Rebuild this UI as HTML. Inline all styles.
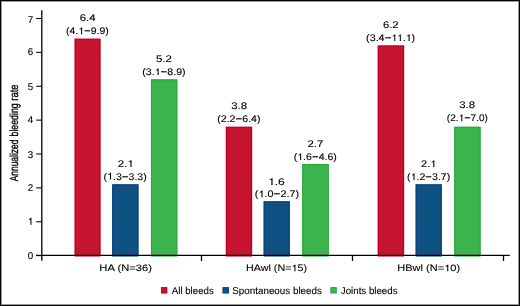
<!DOCTYPE html>
<html><head><meta charset="utf-8"><style>
html,body{margin:0;padding:0;background:#fff;}
svg{display:block;will-change:transform;}
.h{fill-opacity:0;stroke-opacity:0;}
text{font-family:"Liberation Sans",sans-serif;text-rendering:geometricPrecision;fill:#000;stroke:#000;stroke-width:0.12px;}
</style></head><body>
<svg width="520" height="306" viewBox="0 0 520 306">
<rect width="520" height="306" fill="#fff"/>
<rect x="0.5" y="0.5" width="519" height="305" fill="none" stroke="#000" stroke-width="1"/>
<rect x="1.5" y="1.5" width="517" height="303" fill="none" stroke="#999" stroke-width="1"/>
<rect x="74.60" y="38.68" width="25.90" height="216.77" fill="#c61330"/>
<rect x="75.20" y="39.28" width="24.70" height="216.77" fill="none" stroke="#b8001c" stroke-width="1"/>
<rect x="112.15" y="184.32" width="26.35" height="71.13" fill="#105184"/>
<rect x="112.75" y="184.92" width="25.15" height="71.13" fill="none" stroke="#083f72" stroke-width="1"/>
<rect x="150.90" y="79.33" width="26.50" height="176.12" fill="#3cb44e"/>
<rect x="151.50" y="79.93" width="25.30" height="176.12" fill="none" stroke="#2aa83c" stroke-width="1"/>
<rect x="225.80" y="126.74" width="26.35" height="128.71" fill="#c61330"/>
<rect x="226.40" y="127.34" width="25.15" height="128.71" fill="none" stroke="#b8001c" stroke-width="1"/>
<rect x="263.60" y="201.26" width="26.25" height="54.19" fill="#105184"/>
<rect x="264.20" y="201.86" width="25.05" height="54.19" fill="none" stroke="#083f72" stroke-width="1"/>
<rect x="302.15" y="164.00" width="26.65" height="91.45" fill="#3cb44e"/>
<rect x="302.75" y="164.60" width="25.45" height="91.45" fill="none" stroke="#2aa83c" stroke-width="1"/>
<rect x="377.70" y="45.46" width="26.45" height="209.99" fill="#c61330"/>
<rect x="378.30" y="46.06" width="25.25" height="209.99" fill="none" stroke="#b8001c" stroke-width="1"/>
<rect x="415.60" y="184.32" width="26.25" height="71.13" fill="#105184"/>
<rect x="416.20" y="184.92" width="25.05" height="71.13" fill="none" stroke="#083f72" stroke-width="1"/>
<rect x="454.15" y="126.74" width="26.50" height="128.71" fill="#3cb44e"/>
<rect x="454.75" y="127.34" width="25.30" height="128.71" fill="none" stroke="#2aa83c" stroke-width="1"/>
<text id="v00" x="79.76" y="21.00" style="font-size:9.6px;" textLength="15.93" lengthAdjust="spacingAndGlyphs">6.4</text>
<text id="r00" x="66.01" y="34.20" style="font-size:9.6px;" textLength="42.82" lengthAdjust="spacingAndGlyphs">(4.<tspan class="h">1</tspan><tspan dx="0.3" style="stroke-width:0.4px">−</tspan><tspan dx="0.3">9.9)</tspan></text>
<text id="v01" x="117.73" y="166.95" style="font-size:9.6px;" textLength="15.88" lengthAdjust="spacingAndGlyphs">2.<tspan class="h">1</tspan></text>
<text id="r01" x="103.59" y="179.50" style="font-size:9.6px;" textLength="43.14" lengthAdjust="spacingAndGlyphs">(<tspan class="h">1</tspan>.3<tspan dx="0.3" style="stroke-width:0.4px">−</tspan><tspan dx="0.3">3.3)</tspan></text>
<text id="v02" x="156.12" y="62.10" style="font-size:9.6px;" textLength="15.85" lengthAdjust="spacingAndGlyphs">5.2</text>
<text id="r02" x="142.25" y="75.10" style="font-size:9.6px;" textLength="43.42" lengthAdjust="spacingAndGlyphs">(3.<tspan class="h">1</tspan><tspan dx="0.3" style="stroke-width:0.4px">−</tspan><tspan dx="0.3">8.9)</tspan></text>
<text id="v10" x="231.16" y="109.20" style="font-size:9.6px;" textLength="15.89" lengthAdjust="spacingAndGlyphs">3.8</text>
<text id="r10" x="217.28" y="122.30" style="font-size:9.6px;" textLength="43.20" lengthAdjust="spacingAndGlyphs">(2.2<tspan dx="0.3" style="stroke-width:0.4px">−</tspan><tspan dx="0.3">6.4)</tspan></text>
<text id="v11" x="268.05" y="184.95" style="font-size:9.6px;" textLength="16.74" lengthAdjust="spacingAndGlyphs"><tspan class="h">1</tspan>.6</text>
<text id="r11" x="254.88" y="197.30" style="font-size:9.6px;" textLength="44.16" lengthAdjust="spacingAndGlyphs">(<tspan class="h">1</tspan>.0<tspan dx="0.3" style="stroke-width:0.4px">−</tspan><tspan dx="0.3">2.7)</tspan></text>
<text id="v12" x="307.57" y="147.10" style="font-size:9.6px;" textLength="15.67" lengthAdjust="spacingAndGlyphs">2.7</text>
<text id="r12" x="293.69" y="160.10" style="font-size:9.6px;" textLength="43.17" lengthAdjust="spacingAndGlyphs">(<tspan class="h">1</tspan>.6<tspan dx="0.3" style="stroke-width:0.4px">−</tspan><tspan dx="0.3">4.6)</tspan></text>
<text id="v20" x="382.96" y="28.10" style="font-size:9.6px;" textLength="15.71" lengthAdjust="spacingAndGlyphs">6.2</text>
<text id="r20" x="366.11" y="41.10" style="font-size:9.6px;" textLength="49.07" lengthAdjust="spacingAndGlyphs">(3.4<tspan dx="0.3" style="stroke-width:0.4px">−</tspan><tspan dx="0.3"><tspan class="h">1</tspan><tspan class="h">1</tspan>.<tspan class="h">1</tspan>)</tspan></text>
<text id="v21" x="421.11" y="167.10" style="font-size:9.6px;" textLength="15.23" lengthAdjust="spacingAndGlyphs">2.<tspan class="h">1</tspan></text>
<text id="r21" x="407.11" y="180.10" style="font-size:9.6px;" textLength="43.07" lengthAdjust="spacingAndGlyphs">(<tspan class="h">1</tspan>.2<tspan dx="0.3" style="stroke-width:0.4px">−</tspan><tspan dx="0.3">3.7)</tspan></text>
<text id="v22" x="459.16" y="107.90" style="font-size:9.6px;" textLength="15.89" lengthAdjust="spacingAndGlyphs">3.8</text>
<text id="r22" x="446.87" y="121.20" style="font-size:9.6px;" textLength="41.00" lengthAdjust="spacingAndGlyphs">(2.<tspan class="h">1</tspan><tspan dx="0.3" style="stroke-width:0.4px">−</tspan><tspan dx="0.3">7.0)</tspan></text>
<text id="c0" x="99.37" y="271.30" style="font-size:9.3px;stroke-width:0.1px" textLength="52.62" lengthAdjust="spacingAndGlyphs">HA (N=36)</text>
<text id="c1" x="246.09" y="271.30" style="font-size:9.3px;stroke-width:0.1px" textLength="60.88" lengthAdjust="spacingAndGlyphs">HAwl (N=<tspan class="h">1</tspan>5)</text>
<text id="c2" x="397.30" y="271.30" style="font-size:9.3px;stroke-width:0.1px" textLength="62.83" lengthAdjust="spacingAndGlyphs">HBwl (N=<tspan class="h">1</tspan>0)</text>
<text id="l0" x="171.80" y="293.60" style="font-size:9.9px;stroke-width:0.1px" textLength="41.95" lengthAdjust="spacingAndGlyphs">All bleeds</text>
<text id="l1" x="232.25" y="293.60" style="font-size:9.9px;stroke-width:0.1px" textLength="89.69" lengthAdjust="spacingAndGlyphs">Spontaneous bleeds</text>
<text id="l2" x="340.86" y="293.60" style="font-size:9.9px;stroke-width:0.1px" textLength="56.63" lengthAdjust="spacingAndGlyphs">Joints bleeds</text>
<line x1="41.8" y1="10.3" x2="41.8" y2="260.8" stroke="#000" stroke-width="1.3"/>
<line x1="36.2" y1="255.45" x2="509.8" y2="255.45" stroke="#000" stroke-width="1.3"/>
<line x1="36.2" y1="255.60" x2="41.8" y2="255.60" stroke="#000" stroke-width="1.05"/>
<text id="t0" x="33.2" y="259.45" text-anchor="end" style="font-size:9.8px">0</text>
<line x1="36.2" y1="221.73" x2="41.8" y2="221.73" stroke="#000" stroke-width="1.05"/>
<text id="t1" x="33.2" y="224.68" text-anchor="end" style="font-size:9.8px"><tspan class="h">1</tspan></text>
<line x1="36.2" y1="187.86" x2="41.8" y2="187.86" stroke="#000" stroke-width="1.05"/>
<text id="t2" x="33.2" y="190.71" text-anchor="end" style="font-size:9.8px">2</text>
<line x1="36.2" y1="153.99" x2="41.8" y2="153.99" stroke="#000" stroke-width="1.05"/>
<text id="t3" x="33.2" y="157.59" text-anchor="end" style="font-size:9.8px">3</text>
<line x1="36.2" y1="120.12" x2="41.8" y2="120.12" stroke="#000" stroke-width="1.05"/>
<text id="t4" x="33.2" y="123.17" text-anchor="end" style="font-size:9.8px">4</text>
<line x1="36.2" y1="86.25" x2="41.8" y2="86.25" stroke="#000" stroke-width="1.05"/>
<text id="t5" x="33.2" y="90.40" text-anchor="end" style="font-size:9.8px">5</text>
<line x1="36.2" y1="52.38" x2="41.8" y2="52.38" stroke="#000" stroke-width="1.05"/>
<text id="t6" x="33.2" y="55.23" text-anchor="end" style="font-size:9.8px">6</text>
<line x1="36.2" y1="18.51" x2="41.8" y2="18.51" stroke="#000" stroke-width="1.05"/>
<text id="t7" x="33.2" y="22.66" text-anchor="end" style="font-size:9.8px">7</text>
<line x1="201.5" y1="255.45" x2="201.5" y2="261" stroke="#000" stroke-width="1.3"/>
<line x1="352.5" y1="255.45" x2="352.5" y2="261" stroke="#000" stroke-width="1.3"/>
<line x1="503.5" y1="255.45" x2="503.5" y2="261" stroke="#000" stroke-width="1.3"/>
<text transform="translate(18.1,0) rotate(-90)" x="-181.29" y="0" style="font-size:11.6px;stroke-width:0.35px" textLength="41.60" lengthAdjust="spacingAndGlyphs">Annualized</text>
<text transform="translate(18.1,0) rotate(-90)" x="-136.48" y="0" style="font-size:11.6px;stroke-width:0.35px" textLength="33.16" lengthAdjust="spacingAndGlyphs">bleeding</text>
<text transform="translate(18.1,0) rotate(-90)" x="-100.64" y="0" style="font-size:11.6px;stroke-width:0.35px" textLength="16.21" lengthAdjust="spacingAndGlyphs">rate</text>
<rect x="161" y="287.2" width="6.3" height="6.2" fill="#c61330"/>
<rect x="161.5" y="287.7" width="5.3" height="5.2" fill="none" stroke="#b8001c" stroke-width="0.8"/>
<rect x="222.6" y="287.2" width="6.3" height="6.2" fill="#105184"/>
<rect x="223.1" y="287.7" width="5.3" height="5.2" fill="none" stroke="#083f72" stroke-width="0.8"/>
<rect x="330.4" y="287.2" width="6.3" height="6.2" fill="#3cb44e"/>
<rect x="330.9" y="287.7" width="5.3" height="5.2" fill="none" stroke="#2aa83c" stroke-width="0.8"/>
<path d="M 82.09 34.20 L 81.15 34.20 L 81.15 29.35 L 79.58 29.35 L 79.58 28.73 C 80.52 28.68 81.04 28.34 81.25 27.48 L 82.09 27.48 Z" fill="#000" stroke="#000" stroke-width="0.12"/>
<path d="M 131.49 166.95 L 130.46 166.95 L 130.46 162.10 L 128.74 162.10 L 128.74 161.48 C 129.77 161.43 130.34 161.09 130.57 160.23 L 131.49 160.23 Z" fill="#000" stroke="#000" stroke-width="0.12"/>
<path d="M 111.01 179.50 L 110.06 179.50 L 110.06 174.65 L 108.48 174.65 L 108.48 174.03 C 109.42 173.98 109.95 173.64 110.16 172.78 L 111.01 172.78 Z" fill="#000" stroke="#000" stroke-width="0.12"/>
<path d="M 158.56 75.10 L 157.60 75.10 L 157.60 70.25 L 156.01 70.25 L 156.01 69.63 C 156.96 69.58 157.49 69.24 157.71 68.38 L 158.56 68.38 Z" fill="#000" stroke="#000" stroke-width="0.12"/>
<path d="M 272.51 184.95 L 271.42 184.95 L 271.42 180.10 L 269.62 180.10 L 269.62 179.48 C 270.70 179.43 271.30 179.09 271.54 178.23 L 272.51 178.23 Z" fill="#000" stroke="#000" stroke-width="0.12"/>
<path d="M 262.47 197.30 L 261.50 197.30 L 261.50 192.45 L 259.88 192.45 L 259.88 191.83 C 260.85 191.78 261.39 191.44 261.61 190.58 L 262.47 190.58 Z" fill="#000" stroke="#000" stroke-width="0.12"/>
<path d="M 301.11 160.10 L 300.16 160.10 L 300.16 155.25 L 298.58 155.25 L 298.58 154.63 C 299.53 154.58 300.06 154.24 300.27 153.38 L 301.11 153.38 Z" fill="#000" stroke="#000" stroke-width="0.12"/>
<path d="M 395.22 41.10 L 394.32 41.10 L 394.32 36.25 L 392.82 36.25 L 392.82 35.63 C 393.72 35.58 394.22 35.24 394.42 34.38 L 395.22 34.38 Z" fill="#000" stroke="#000" stroke-width="0.12"/>
<path d="M 400.79 41.10 L 399.89 41.10 L 399.89 36.25 L 398.39 36.25 L 398.39 35.63 C 399.29 35.58 399.79 35.24 399.99 34.38 L 400.79 34.38 Z" fill="#000" stroke="#000" stroke-width="0.12"/>
<path d="M 409.61 41.10 L 408.64 41.10 L 408.64 36.25 L 407.03 36.25 L 407.03 35.63 C 408.00 35.58 408.53 35.24 408.75 34.38 L 409.61 34.38 Z" fill="#000" stroke="#000" stroke-width="0.12"/>
<path d="M 434.30 167.10 L 433.32 167.10 L 433.32 162.25 L 431.67 162.25 L 431.67 161.63 C 432.66 161.58 433.21 161.24 433.43 160.38 L 434.30 160.38 Z" fill="#000" stroke="#000" stroke-width="0.12"/>
<path d="M 414.51 180.10 L 413.57 180.10 L 413.57 175.25 L 411.99 175.25 L 411.99 174.63 C 412.93 174.58 413.46 174.24 413.67 173.38 L 414.51 173.38 Z" fill="#000" stroke="#000" stroke-width="0.12"/>
<path d="M 462.27 121.20 L 461.36 121.20 L 461.36 116.35 L 459.86 116.35 L 459.86 115.73 C 460.76 115.68 461.26 115.34 461.46 114.48 L 462.27 114.48 Z" fill="#000" stroke="#000" stroke-width="0.12"/>
<path d="M 295.43 271.30 L 294.46 271.30 L 294.46 266.60 L 292.86 266.60 L 292.86 266.00 C 293.82 265.95 294.36 265.63 294.57 264.79 L 295.43 264.79 Z" fill="#000" stroke="#000" stroke-width="0.1"/>
<path d="M 448.26 271.30 L 447.27 271.30 L 447.27 266.60 L 445.61 266.60 L 445.61 266.00 C 446.60 265.95 447.16 265.63 447.38 264.79 L 448.26 264.79 Z" fill="#000" stroke="#000" stroke-width="0.1"/>
<path d="M 31.38 224.68 L 30.49 224.68 L 30.49 219.73 L 29.02 219.73 L 29.02 219.09 C 29.90 219.04 30.39 218.70 30.59 217.82 L 31.38 217.82 Z" fill="#000" stroke="#000" stroke-width="0.12"/>
</svg>
</body></html>
